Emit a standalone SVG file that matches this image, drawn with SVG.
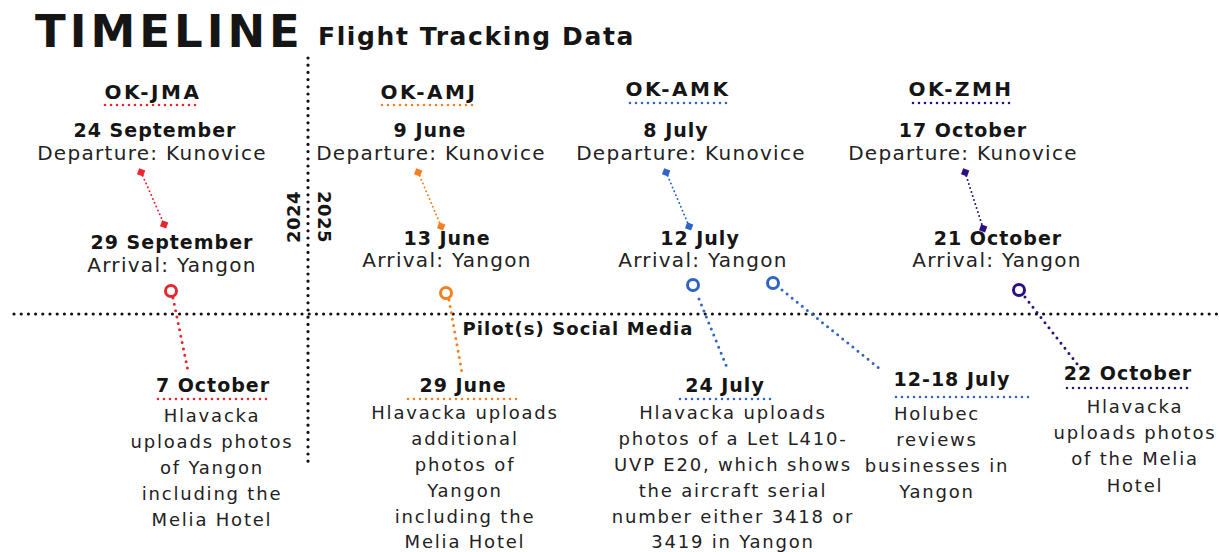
<svg xmlns="http://www.w3.org/2000/svg" width="1219" height="552" viewBox="0 0 1219 552">
<style>
text{font-family:"DejaVu Sans","Liberation Sans",sans-serif;fill:#151515;text-anchor:middle}
.title{font-size:45px;font-weight:bold;letter-spacing:4px;text-anchor:start}
.sub{font-size:25px;font-weight:bold;letter-spacing:1.6px;text-anchor:start}
.reg{font-size:20px;font-weight:bold;letter-spacing:2.5px}
.hd{font-size:19px;font-weight:bold;letter-spacing:1px}
.sm{font-size:18px;font-weight:bold;letter-spacing:1.1px}
.dep{font-size:20px;letter-spacing:1.3px;fill:#222}
.body{font-size:18px;letter-spacing:1.8px;fill:#222}
.yr{font-size:18px;font-weight:bold;letter-spacing:0.5px}
.axis{stroke:#111;stroke-width:3.2;stroke-linecap:round;stroke-dasharray:0 7.2;fill:none}
.con{stroke-width:3;stroke-linecap:round;stroke-dasharray:0 6.5;fill:none}
.pin{stroke-width:2;stroke-linecap:round;stroke-dasharray:0 4.2;fill:none}
.ul{stroke-width:2.6;stroke-linecap:round;stroke-dasharray:0 6;fill:none}
.ring{fill:#fff;stroke-width:3}
.red{stroke:#e8262d}.org{stroke:#f28023}.blu{stroke:#2f66c6}.pur{stroke:#2c0f82}
.fr{fill:#e8262d}.fo{fill:#f28023}.fb{fill:#2f66c6}.fp{fill:#2c0f82}
</style>

<g id="header">
<text class="title" x="35" y="47">TIMELINE</text>
<text class="sub" x="318" y="45">Flight Tracking Data</text>
</g>

<g id="axes">
<line class="axis" x1="308" y1="58" x2="308" y2="465"/>
<line class="axis" x1="14" y1="314" x2="1219" y2="314"/>
<text class="yr" transform="translate(300 217) rotate(-90)">2024</text>
<text class="yr" transform="translate(318 217) rotate(90)">2025</text>
<text class="sm" x="578" y="335">Pilot(s) Social Media</text>
</g>

<g id="connectors">
<line class="pin red" x1="141" y1="172" x2="164" y2="224"/>
<line class="pin org" x1="418" y1="172" x2="441" y2="226"/>
<line class="pin blu" x1="666" y1="172" x2="689" y2="226"/>
<line class="pin pur" x1="965" y1="172" x2="983" y2="228"/>
<line class="con red" x1="173" y1="298" x2="188" y2="371"/>
<line class="con org" x1="449" y1="300" x2="462" y2="373"/>
<line class="con blu" x1="699" y1="299" x2="728" y2="370"/>
<line class="con blu" x1="782" y1="290" x2="880" y2="369"/>
<line class="con pur" x1="1025" y1="297" x2="1085" y2="374"/>
</g>

<g id="node-ok-jma">
<text class="reg" x="153" y="99">OK-JMA</text>
<line class="ul red" x1="105" y1="105" x2="201" y2="105"/>
<text class="hd" x="155" y="137">24 September</text>
<text class="dep" x="152" y="160">Departure: Kunovice</text>
<rect class="fr" x="138" y="169" width="6.5" height="6.5" transform="rotate(20 141 172)"/>
<rect class="fr" x="161" y="221" width="6.5" height="6.5" transform="rotate(20 164 224)"/>
<text class="hd" x="172" y="249">29 September</text>
<text class="dep" x="172" y="272">Arrival: Yangon</text>
<circle class="ring red" cx="171" cy="291" r="5.5"/>
</g>

<g id="node-ok-amj">
<text class="reg" x="429" y="99">OK-AMJ</text>
<line class="ul org" x1="382" y1="105" x2="476" y2="105"/>
<text class="hd" x="430" y="137">9 June</text>
<text class="dep" x="431" y="160">Departure: Kunovice</text>
<rect class="fo" x="415" y="169" width="6.5" height="6.5" transform="rotate(20 418 172)"/>
<rect class="fo" x="438" y="223" width="6.5" height="6.5" transform="rotate(20 441 226)"/>
<text class="hd" x="447" y="245">13 June</text>
<text class="dep" x="447" y="267">Arrival: Yangon</text>
<circle class="ring org" cx="446" cy="293" r="5.5"/>
</g>

<g id="node-ok-amk">
<text class="reg" x="678" y="96">OK-AMK</text>
<line class="ul blu" x1="630" y1="103" x2="727" y2="103"/>
<text class="hd" x="676" y="137">8 July</text>
<text class="dep" x="691" y="160">Departure: Kunovice</text>
<rect class="fb" x="663" y="169" width="6.5" height="6.5" transform="rotate(20 666 172)"/>
<rect class="fb" x="686" y="223" width="6.5" height="6.5" transform="rotate(20 689 226)"/>
<text class="hd" x="700" y="245">12 July</text>
<text class="dep" x="703" y="267">Arrival: Yangon</text>
<circle class="ring blu" cx="693" cy="285" r="5.5"/>
<circle class="ring blu" cx="773" cy="283" r="5.5"/>
</g>

<g id="node-ok-zmh">
<text class="reg" x="961" y="96">OK-ZMH</text>
<line class="ul pur" x1="913" y1="103" x2="1010" y2="103"/>
<text class="hd" x="963" y="137">17 October</text>
<text class="dep" x="963" y="160">Departure: Kunovice</text>
<rect class="fp" x="962" y="169" width="6.5" height="6.5" transform="rotate(20 965 172)"/>
<rect class="fp" x="980" y="225" width="6.5" height="6.5" transform="rotate(20 983 228)"/>
<text class="hd" x="998" y="245">21 October</text>
<text class="dep" x="997" y="267">Arrival: Yangon</text>
<circle class="ring pur" cx="1019" cy="290" r="5.5"/>
</g>

<g id="post-7-october">
<text class="hd" x="213" y="392">7 October</text>
<line class="ul red" x1="158" y1="399" x2="267" y2="399"/>
<text class="body" x="212" y="422">Hlavacka</text>
<text class="body" x="212" y="448">uploads photos</text>
<text class="body" x="212" y="474">of Yangon</text>
<text class="body" x="212" y="500">including the</text>
<text class="body" x="212" y="526">Melia Hotel</text>
</g>

<g id="post-29-june">
<text class="hd" x="463" y="392">29 June</text>
<line class="ul org" x1="408" y1="399" x2="517" y2="399"/>
<text class="body" x="465" y="419">Hlavacka uploads</text>
<text class="body" x="465" y="445">additional</text>
<text class="body" x="465" y="471">photos of</text>
<text class="body" x="465" y="497">Yangon</text>
<text class="body" x="465" y="523">including the</text>
<text class="body" x="465" y="548">Melia Hotel</text>
</g>

<g id="post-24-july">
<text class="hd" x="725" y="392">24 July</text>
<line class="ul blu" x1="680" y1="399" x2="771" y2="399"/>
<text class="body" x="733" y="419">Hlavacka uploads</text>
<text class="body" x="733" y="445">photos of a Let L410-</text>
<text class="body" x="733" y="471">UVP E20, which shows</text>
<text class="body" x="733" y="497">the aircraft serial</text>
<text class="body" x="733" y="523">number either 3418 or</text>
<text class="body" x="733" y="548">3419 in Yangon</text>
</g>

<g id="post-12-18-july">
<text class="hd" x="952" y="386">12-18 July</text>
<line class="ul blu" x1="896" y1="397" x2="1029" y2="397"/>
<text class="body" x="937" y="420">Holubec</text>
<text class="body" x="937" y="446">reviews</text>
<text class="body" x="937" y="472">businesses in</text>
<text class="body" x="937" y="498">Yangon</text>
</g>

<g id="post-22-october">
<text class="hd" x="1128" y="380">22 October</text>
<line class="ul pur" x1="1067" y1="388" x2="1190" y2="388"/>
<text class="body" x="1135" y="413">Hlavacka</text>
<text class="body" x="1135" y="439">uploads photos</text>
<text class="body" x="1135" y="465">of the Melia</text>
<text class="body" x="1135" y="492">Hotel</text>
</g>
</svg>
